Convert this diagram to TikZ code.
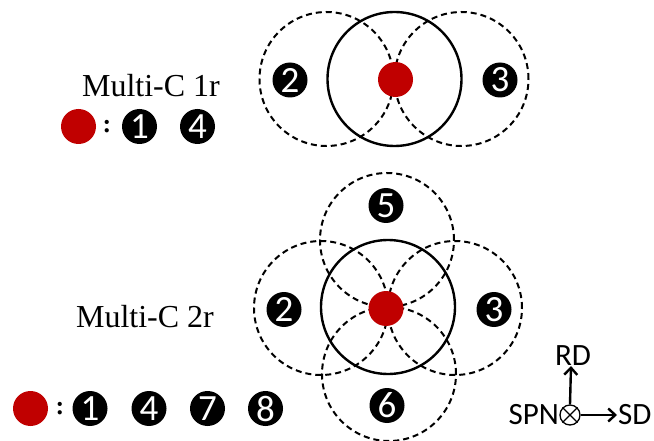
\documentclass[tikz,border=0pt]{standalone}
\usepackage{fontspec}
\setmainfont{Liberation Serif}
\newfontfamily\numfont{Carlito}
\usetikzlibrary{arrows.meta}
\definecolor{dotred}{RGB}{192,0,0}
\tikzset{
  reddot/.style={circle,fill=dotred,minimum size=35pt,inner sep=0pt},
  numdot/.style={circle,fill=black,text=white,minimum size=35pt,inner sep=0pt,font=\numfont\fontsize{37}{37}\selectfont},
  mainring/.style={circle,draw,line width=2.4pt,minimum size=134pt,inner sep=0pt},
  dashring/.style={circle,draw,line width=2pt,dash pattern=on 6pt off 4pt,minimum size=134pt,inner sep=0pt},
  title/.style={anchor=base,font=\fontsize{32}{32}\selectfont,inner sep=0pt},
  colonmark/.style={font=\bfseries\fontsize{26}{26}\selectfont,inner sep=0pt},
  axlabel/.style={font=\numfont\fontsize{31}{31}\selectfont,inner sep=0pt},
  axarrow/.style={line width=2.4pt,-{Straight Barb[length=7pt,width=13pt,line width=2.4pt]}}
}
\begin{document}
\begin{tikzpicture}[x=1pt,y=-1pt]
\useasboundingbox (0,0) rectangle (654,441);
% ---------- top diagram ----------
\node[dashring] (tL) at (326.5,79) {};
\node[dashring] (tR) at (461.5,79) {};
\node[mainring] (tC) at (394.5,79) {};
\node[reddot] (tRed) at (395.5,79.5) {};
\node[numdot] (t2) at (290,80) {2};
\node[numdot] (t3) at (500,80) {3};
\node[title] (t1r) at (151,97) {Multi-C 1r};
\node[reddot] (lgA) at (78.5,126.5) {};
\node[colonmark] (lgAc) at (107,126.5) {:};
\node[numdot] (lgA1) at (139.5,126.5) {1};
\node[numdot] (lgA4) at (197.5,126.5) {4};
% ---------- bottom diagram ----------
\node[dashring] (bT) at (387,240) {};
\node[dashring] (bB) at (389,374) {};
\node[dashring] (bL) at (321,308) {};
\node[dashring] (bR) at (455,308) {};
\node[mainring] (bC) at (388,307) {};
\node[reddot] (bRed) at (386,308.5) {};
\node[numdot] (b5) at (386,205.5) {5};
\node[numdot] (b6) at (387,405.5) {6};
\node[numdot] (b2) at (284,309.5) {2};
\node[numdot] (b3) at (494,309.5) {3};
\node[title] (t2r) at (145,327) {Multi-C 2r};
\node[reddot] (lgB) at (30.5,408.5) {};
\node[colonmark] (lgBc) at (60,408.5) {:};
\node[numdot] (lgB1) at (90,408.5) {1};
\node[numdot] (lgB4) at (149,408.5) {4};
\node[numdot] (lgB7) at (207.5,408.5) {7};
\node[numdot] (lgB8) at (265.5,408.5) {8};
% ---------- axes ----------
\node[circle,draw,line width=1.3pt,minimum size=20pt,inner sep=0pt] (ax) at (570,415) {};
\draw[line width=1.3pt] (ax.north east) -- (ax.south west) (ax.north west) -- (ax.south east);
\coordinate (rdtip) at (571,366);
\coordinate (sdtip) at (617,415);
\draw[axarrow] (ax.north) -- (rdtip);
\draw[axarrow] (ax.east) -- (sdtip);
\node[axlabel,anchor=base] (rd) at (573,365) {RD};
\node[axlabel,anchor=base west] (sd) at (618,424) {SD};
\node[axlabel,anchor=base east] (spn) at (559,424) {SPN};
\end{tikzpicture}
\end{document}
